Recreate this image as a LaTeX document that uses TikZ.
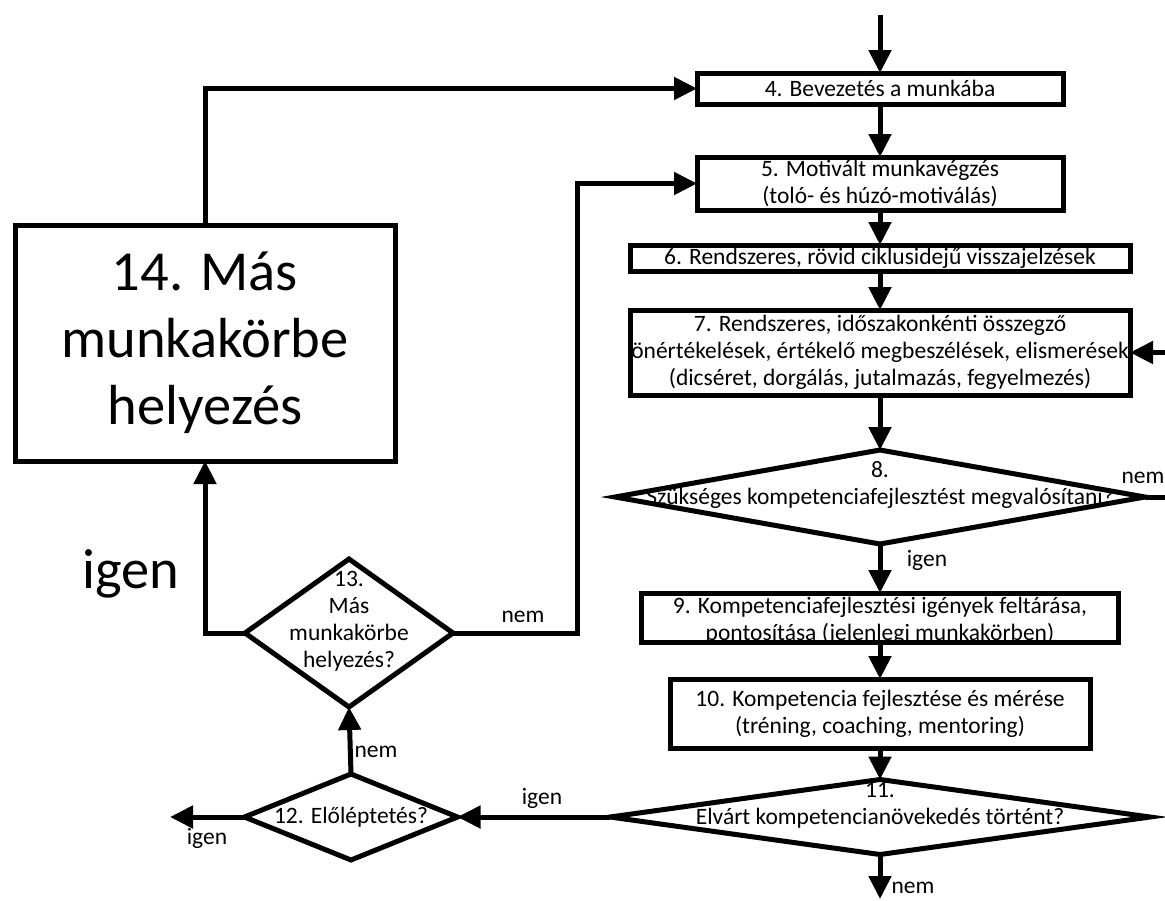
\documentclass[tikz,border=0pt]{standalone}
\usepackage{fontspec}
\setmainfont{Carlito}
\usetikzlibrary{arrows.meta,shapes.geometric}
\begin{document}
\begin{tikzpicture}[x=1pt,y=-1pt,
  every node/.style={inner sep=0pt, outer sep=0pt},
  txt/.style={font=\fontsize{23.5}{27}\selectfont},
  big/.style={font=\fontsize{56.5}{67}\selectfont},
  box/.style={draw, line width=5pt, align=center, txt, fill=white},
  dia/.style={draw, diamond, line width=5pt, fill=white},
  dtext/.style={txt, align=center, yshift=12pt},
  flow/.style={line width=5pt},
  arr/.style={flow, -{Triangle[length=23pt,width=22pt]}},
]
\fill[white] (0,0) rectangle (1165,900);
\useasboundingbox (0,0) rectangle (1165,900);

% main column
\node[box, minimum width=366, minimum height=31] (b4) at (880,88.5) {4. Bevezetés a munkába};
\node[box, minimum width=366, minimum height=53] (b5) at (880,183.5) {5. Motivált munkavégzés\\(toló- és húzó-motiválás)};
\node[box, minimum width=500, minimum height=26] (b6) at (880,258) {6. Rendszeres, rövid ciklusidejű visszajelzések};
\node[box, minimum width=500, minimum height=85] (b7) at (880,352.5) {7. Rendszeres, időszakonkénti összegző\\önértékelések, értékelő megbeszélések, elismerések\\(dicséret, dorgálás, jutalmazás, fegyelmezés)};
\node[dia, minimum width=530, minimum height=94,
      label={[dtext]center:{8.\\Szükséges kompetenciafejlesztést megvalósítani?}}] (d8) at (880,497) {};
% the text of box 9 sits low, its second line running into the lower edge
\node[box, minimum width=477, minimum height=49,
      label={[txt, align=center, yshift=-3pt]center:{9. Kompetenciafejlesztési igények feltárása,\\pontosítása (jelenlegi munkakörben)}}] (b9) at (880,617.5) {};
\node[box, minimum width=420, minimum height=69] (b10) at (880,713.5) {10. Kompetencia fejlesztése és mérése\\(tréning, coaching, mentoring)};
\node[dia, minimum width=540, minimum height=75,
      label={[dtext]center:{11.\\Elvárt kompetencianövekedés történt?}}] (d11) at (880,817) {};

% left branch
\node[dia, minimum width=213, minimum height=86,
      label={[txt]center:{12. Előléptetés?}}] (d12) at (351,817) {};
\node[dia, minimum width=208, minimum height=148,
      label={[dtext]center:{13.\\Más\\munkakörbe\\helyezés?}}] (d13) at (349,633) {};
\node[box, big, minimum width=380, minimum height=236] (b14) at (205,343) {14. Más\\munkakörbe\\helyezés};

% free ends
\coordinate (in0) at (880,15);
\coordinate (out8) at (1165,497);
\coordinate (in7) at (1165,352.5);
\coordinate (out11) at (880,899);
\coordinate (out12) at (170,817);
\coordinate (j13) at (577,183.5);

% connectors
\draw[arr] (in0) -- (b4.north);
\draw[arr] (b4.south) -- (b5.north);
\draw[arr] (b5.south) -- (b6.north);
\draw[arr] (b6.south) -- (b7.north);
\draw[arr] (b7.south) -- (d8.north);
\draw[arr] (d8.south) -- (b9.north);
\draw[arr] (b9.south) -- (b10.north);
\draw[arr] (b10.south) -- (d11.north);
\draw[arr] (d11.south) -- (out11);
\draw[flow] (d8.east) -- (out8);
\draw[arr] (in7) -- (b7.east);
\draw[arr] (d11.west) -- (d12.east);
\draw[arr] (d12.west) -- (out12);
\draw[arr] (d12.north) -- (d13.south);
\draw[arr] (d13.west) -| (b14.south);
\draw[arr] (d13.east) -| (j13) -- (b5.west);
\draw[arr] (b14.north) |- (b4.west);

% connector labels
\node[txt] (n8) at (1143,478) {nem};
\node[txt] (y8) at (927,560) {igen};
\node[txt] (n11) at (913,888) {nem};
\node[txt] (y11) at (542,798) {igen};
\node[txt] (y12) at (207,838) {igen};
\node[txt] (n12) at (376,752) {nem};
\node[txt] (n13) at (523,617) {nem};
\node[big, anchor=base] (y13) at (131,588) {igen};
\end{tikzpicture}
\end{document}
